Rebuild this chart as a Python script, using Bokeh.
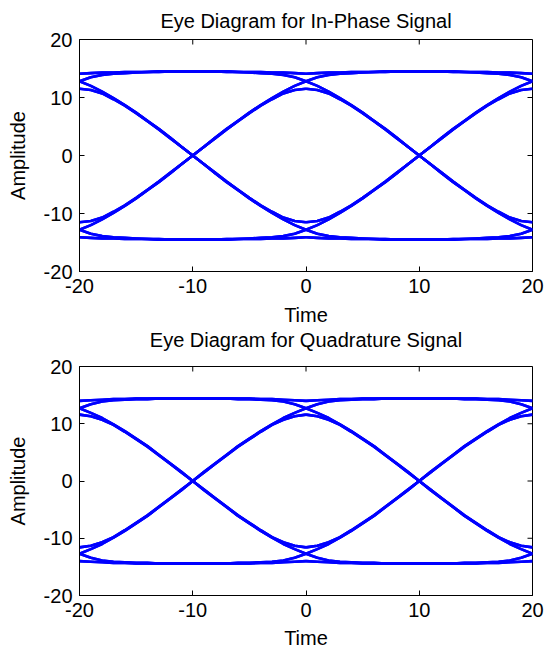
import numpy as np
from bokeh.plotting import figure
from bokeh.models import FixedTicker, Range1d, Title
from bokeh.layouts import column
from bokeh.embed import file_html
from bokeh.resources import INLINE

# ---- data ----
# sample time grid (one symbol interval = 20, display spans two intervals)
time_axis = list(range(-20, 21))
axis_limits = (-20, 20)
tick_values = [-20, -10, 0, 10, 20]
tick_labels = {-20: "-20", -10: "-10", 0: "0", 10: "10", 20: "20"}
titles = ["Eye Diagram for In-Phase Signal", "Eye Diagram for Quadrature Signal"]

# half-interval trace shapes, from a symbol sample (t=-20) to the mid crossing (t=-10)
# In-phase
i_hold_a = [14.1, 14.2, 14.3, 14.3, 14.4, 14.4, 14.4, 14.5, 14.5, 14.5, 14.5]
i_hold_b = [12.8, 13.5, 13.9, 14.1, 14.2, 14.3, 14.4, 14.4, 14.5, 14.5, 14.5]
i_fall_a = [12.8, 12.0, 11.0, 9.9, 8.7, 7.4, 6.0, 4.6, 3.1, 1.5, 0.0]
i_fall_b = [11.5, 11.3, 10.7, 9.7, 8.6, 7.3, 5.9, 4.5, 3.0, 1.5, 0.0]
# Quadrature
q_hold_a = [14.0, 14.1, 14.2, 14.3, 14.3, 14.4, 14.4, 14.4, 14.4, 14.4, 14.4]
q_hold_b = [12.7, 13.4, 13.9, 14.1, 14.2, 14.3, 14.3, 14.4, 14.4, 14.4, 14.4]
q_fall_a = [12.7, 11.9, 11.0, 9.9, 8.7, 7.4, 6.1, 4.6, 3.1, 1.6, 0.0]
q_fall_b = [11.6, 11.3, 10.7, 9.8, 8.6, 7.3, 6.0, 4.5, 3.0, 1.5, 0.0]

BLUE = "#0000ff"
FONT = "Liberation Sans"


def build_traces(hold_a, hold_b, fall_a, fall_b):
    n = len(hold_a)
    segs = []
    holds = [hold_a, hold_b]
    falls = [fall_a, fall_b]
    for s in holds:
        for e in holds:
            segs.append(list(s) + list(reversed(e))[1:])
    for s in falls:
        for e in falls:
            segs.append(list(s) + [-v for v in reversed(e)][1:])
    segs = segs + [[-v for v in sg] for sg in segs]
    xs, ys = [], []
    seg_len = 2 * n - 1
    for k in range(2):
        tt = time_axis[k * (seg_len - 1): k * (seg_len - 1) + seg_len]
        for sg in segs:
            xs.append(tt)
            ys.append(sg)
    return xs, ys


def style_axis(ax):
    ax.ticker = FixedTicker(ticks=tick_values)
    ax.major_label_overrides = dict(tick_labels)
    ax.major_tick_in = 5
    ax.major_tick_out = 0
    ax.minor_tick_in = 0
    ax.minor_tick_out = 0
    ax.axis_line_color = "black"
    ax.major_tick_line_color = "black"
    ax.major_label_text_font = FONT
    ax.major_label_text_font_size = "20px"
    ax.major_label_text_color = "black"
    ax.axis_label_text_font = FONT
    ax.axis_label_text_font_size = "20px"
    ax.axis_label_text_font_style = "normal"
    ax.axis_label_text_color = "black"


def make_title(text, standoff, valign):
    return Title(text=text, align="center", text_font=FONT, text_font_size="20px",
                 text_font_style="normal", text_color="black", standoff=standoff,
                 vertical_align=valign)


def make_fig(traces, height, border_top, border_bottom, tick_standoff, xlab_standoff):
    lo, hi = axis_limits
    p = figure(width=545, height=height, x_range=Range1d(lo, hi), y_range=Range1d(lo, hi),
               output_backend="svg", toolbar_location=None, title=None,
               min_border_left=79, min_border_right=13,
               min_border_top=border_top, min_border_bottom=border_bottom)
    p.grid.visible = False
    p.outline_line_color = "black"
    p.background_fill_color = "white"
    p.border_fill_color = "white"

    xs, ys = traces
    p.multi_line(xs, ys, line_color=BLUE, line_width=2.6)

    style_axis(p.xaxis[0])
    style_axis(p.yaxis[0])
    p.xaxis[0].axis_label = "Time"
    p.yaxis[0].axis_label = "Amplitude"
    p.xaxis[0].major_label_standoff = tick_standoff
    p.xaxis[0].axis_label_standoff = xlab_standoff
    p.yaxis[0].major_label_standoff = 7
    p.yaxis[0].axis_label_standoff = 12

    # inward box ticks on the top and right edges (MATLAB "box on")
    p.ray(x=tick_values, y=[hi] * len(tick_values), length=5, length_units="screen",
          angle=-np.pi / 2, line_color="black", line_width=1)
    p.ray(x=[hi] * len(tick_values), y=tick_values, length=5, length_units="screen",
          angle=np.pi, line_color="black", line_width=1)
    return p


p1 = make_fig(build_traces(i_hold_a, i_hold_b, i_fall_a, i_fall_b), 354, 39, 83, 7, 8)
p1.add_layout(make_title(titles[0], 12, "top"), "above")
# the second panel's title sits in the gap between the two panels
p1.add_layout(make_title(titles[1], 0, "top"), "below")

p2 = make_fig(build_traces(q_hold_a, q_hold_b, q_fall_a, q_fall_b), 299, 12, 58, 7, 7)

layout = column(p1, p2, spacing=0)
open("out.html", "w").write(file_html(layout, INLINE))
